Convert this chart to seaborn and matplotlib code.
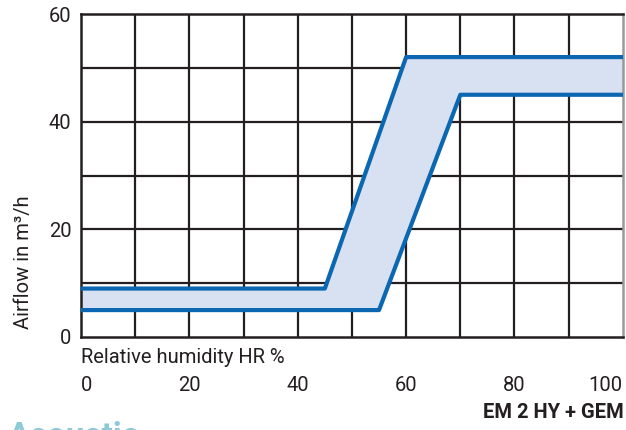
import pandas as pd
import numpy as np
import matplotlib
matplotlib.use("Agg")
import matplotlib.pyplot as plt
import seaborn as sns

# curve corner points
humidity_upper = [0, 45, 60, 100]
airflow_upper = [9, 9, 52, 52]
humidity_lower = [0, 55, 70, 100]
airflow_lower = [5, 5, 45, 45]

x_ticks = [0, 20, 40, 60, 80, 100]
y_ticks = [0, 20, 40, 60]

line_blue = '#0b67b2'
band_blue = '#d8e1f1'
grid_col = '#231f20'

sns.set_theme(style="white")
plt.rcParams['font.family'] = ['Roboto', 'DejaVu Sans']

df = pd.concat([
    pd.DataFrame({'hr': humidity_upper, 'flow': airflow_upper, 'curve': 'max'}),
    pd.DataFrame({'hr': humidity_lower, 'flow': airflow_lower, 'curve': 'min'}),
])

fig = plt.figure(figsize=(6.26, 4.30), dpi=100)
ax = fig.add_axes([0.1294, 0.2163, 0.8656, 0.7511])

# shaded band between the two curves
grid_x = np.union1d(humidity_upper, humidity_lower)
ax.fill_between(grid_x, np.interp(grid_x, humidity_lower, airflow_lower),
                np.interp(grid_x, humidity_upper, airflow_upper),
                color=band_blue, lw=0, zorder=1)

for x in range(10, 100, 10):
    ax.axvline(x, color=grid_col, lw=1.6, zorder=0.5)
for y in range(10, 60, 10):
    ax.axhline(y, color=grid_col, lw=1.6, zorder=0.5)

sns.lineplot(data=df, x='hr', y='flow', units='curve', estimator=None,
             color=line_blue, lw=3, ax=ax, zorder=3, sort=False)

ax.set_xlim(0, 100)
ax.set_ylim(0, 60)
ax.set_xticks(x_ticks)
ax.set_yticks(y_ticks)
ax.tick_params(axis='both', length=0, labelsize=14.5, colors='#231f20')
ax.tick_params(axis='x', pad=28)
ax.tick_params(axis='y', pad=7)
ax.set_xlabel('')
ax.set_ylabel('')
xlabels = ax.get_xticklabels()
xlabels[0].set_ha('left')
xlabels[-1].set_ha('right')

for s in ['left', 'bottom', 'top']:
    ax.spines[s].set_color(grid_col)
    ax.spines[s].set_linewidth(1.8)
ax.spines['right'].set_color('#999999')
ax.spines['right'].set_linewidth(1.8)

ax.text(0.0, -0.035, 'Relative humidity HR %', transform=ax.transAxes,
        ha='left', va='top', fontsize=14.5, color='#231f20')

fig.text(0.038, 0.39, 'Airflow in m³/h', rotation=90, ha='center', va='center',
         fontsize=14.5, color='#231f20')
fig.text(0.996, 0.04, 'EM 2 HY + GEM', ha='right', va='center',
         fontsize=14.5, fontweight='bold', color='#231f20')
fig.text(0.012, 0.022, 'Acoustic', ha='left', va='top',
         fontsize=24, fontweight='bold', color='#8ccbd6')

fig.savefig('out.png', dpi=100)
